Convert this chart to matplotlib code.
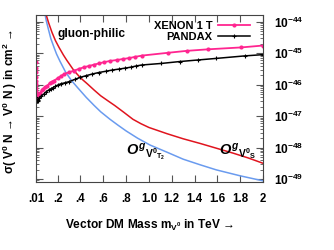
import numpy as np
import matplotlib; matplotlib.use("Agg")
import matplotlib.pyplot as plt
from matplotlib.ticker import LogLocator, NullFormatter

plt.rcParams['font.family'] = ['Liberation Sans', 'DejaVu Sans']
plt.rcParams['font.weight'] = 'bold'
plt.rcParams['mathtext.fontset'] = 'custom'
plt.rcParams['mathtext.rm'] = 'Liberation Sans:bold'
plt.rcParams['mathtext.it'] = 'Liberation Sans:italic:bold'
plt.rcParams['mathtext.bf'] = 'Liberation Sans:bold'

# mass in TeV, cross sections as log10(cm^2)
xe_m = [0.010, 0.0102, 0.0105, 0.011, 0.0115, 0.012, 0.013, 0.014, 0.016, 0.018, 0.021, 0.025,
        0.03, 0.036, 0.045, 0.06, 0.075, 0.09, 0.109, 0.13, 0.15, 0.168, 0.2, 0.23, 0.255, 0.3,
        0.343, 0.39, 0.431, 0.475, 0.518, 0.56, 0.606, 0.66, 0.72, 0.77, 0.825, 0.88, 0.939,
        1.17, 1.33, 1.52, 1.81, 2.0]
xe_s = [-45.27, -45.45, -45.6, -45.75, -45.88, -45.98, -46.1, -46.2, -46.28, -46.33, -46.36, -46.37,
        -46.36, -46.33, -46.27, -46.18, -46.12, -46.07, -46.03, -45.95, -45.90, -45.87, -45.79, -45.72,
        -45.66, -45.60, -45.55, -45.49, -45.44, -45.40, -45.36, -45.32, -45.28, -45.24, -45.21, -45.18,
        -45.15, -45.11, -45.07, -44.98, -44.92, -44.87, -44.81, -44.75]

pd_m = [0.010, 0.012, 0.015, 0.018, 0.021, 0.025, 0.03, 0.04, 0.055, 0.08, 0.1, 0.12, 0.139, 0.16,
        0.18, 0.2, 0.227, 0.26, 0.3, 0.35, 0.4, 0.45, 0.5, 0.56, 0.621, 0.68, 0.738, 0.79, 0.84,
        0.89, 0.937, 1.11, 1.27, 1.43, 1.59, 1.84, 2.0]
pd_s = [-46.38, -46.45, -46.5, -46.53, -46.53, -46.52, -46.48, -46.42, -46.36, -46.29, -46.22, -46.17,
        -46.13, -46.09, -46.05, -46.01, -45.97, -45.94, -45.90, -45.83, -45.76, -45.71, -45.66, -45.61,
        -45.57, -45.53, -45.50, -45.47, -45.44, -45.40, -45.37, -45.32, -45.26, -45.21, -45.16, -45.08,
        -45.04]

os_m = [0.095, 0.10, 0.12, 0.15, 0.18, 0.212, 0.25, 0.28, 0.343, 0.40, 0.46, 0.52, 0.577, 0.64,
        0.70, 0.781, 0.86, 0.93, 1.0, 1.08, 1.16, 1.3, 1.45, 1.6, 1.74, 1.87, 2.0]
os_s = [-43.6, -43.78, -44.02, -44.33, -44.59, -44.81, -45.05, -45.22, -45.55, -45.78, -45.97, -46.17,
        -46.35, -46.51, -46.66, -46.88, -47.10, -47.24, -47.36, -47.46, -47.56, -47.72, -47.87, -48.03,
        -48.18, -48.33, -48.50]

ot_m = [0.085, 0.089, 0.10, 0.12, 0.14, 0.168, 0.19, 0.22, 0.27, 0.32, 0.372, 0.45, 0.52, 0.577,
        0.659, 0.73, 0.8, 0.9, 1.01, 1.16, 1.3, 1.45, 1.59, 1.8, 2.0]
ot_s = [-43.6, -43.75, -43.96, -44.25, -44.53, -44.81, -45.02, -45.25, -45.60, -45.86, -46.08, -46.40,
        -46.66, -46.86, -47.10, -47.29, -47.47, -47.70, -47.92, -48.15, -48.37, -48.55, -48.71, -48.9,
        -49.06]

xticks = [0.01, 0.2, 0.4, 0.6, 0.8, 1.0, 1.2, 1.4, 1.6, 1.8, 2.0]
xlabels = [".01", ".2", ".4", ".6", ".8", "1.0", "1.2", "1.4", "1.6", "1.8", "2"]
ydec = [-49, -48, -47, -46, -45, -44]

fig = plt.figure(figsize=(3.34, 2.5), dpi=100)
ax = fig.add_axes([0.1078, 0.272, 0.6796, 0.668])
ax.set_yscale('log')

ax.plot(ot_m, 10.0**np.array(ot_s), color='#6a9bef', lw=1.1)
ax.plot(os_m, 10.0**np.array(os_s), color='#e0141e', lw=1.1)
ax.plot(xe_m, 10.0**np.array(xe_s), color='#ff2590', lw=1.3, marker='o', ms=3.0, mew=0,
        label='XENON 1 T')
ax.plot(pd_m, 10.0**np.array(pd_s), color='black', lw=1.1, marker='+', ms=3.5, mew=0.8,
        label='PANDAX')

ax.set_xlim(0.01, 2.0)
ax.set_ylim(8e-50, 1.67e-44)
ax.set_xticks(xticks)
ax.set_xticklabels(xlabels, fontsize=8.3, fontweight='bold')
ax.set_yticks([10.0**d for d in ydec])
ax.set_yticklabels([r'$10^{%d}$' % d for d in ydec], fontsize=8.6)
ax.yaxis.set_minor_locator(LogLocator(base=10, subs=np.arange(2, 10), numticks=20))
ax.yaxis.set_minor_formatter(NullFormatter())
ax.tick_params(axis='both', which='both', direction='in', color='#555555',
               top=True, bottom=True, left=True, right=True,
               labelleft=False, labelright=True)
ax.tick_params(axis='x', which='major', length=5, pad=8)
ax.tick_params(axis='y', which='major', length=5, pad=8)
ax.tick_params(axis='y', which='minor', length=2.5)
for s in ax.spines.values():
    s.set_color('#444444'); s.set_linewidth(0.8)

ax.text(0.094, 0.868, 'gluon-philic', transform=ax.transAxes, fontsize=8.6,
        fontweight='bold', va='baseline')
ax.text(0.80, 10.0**-48.24, r'$O^{g}{}_{\mathrm{V}^{0}{}_{\mathrm{T}_{2}}}$', fontsize=10.5,
        va='baseline')
ax.text(1.615, 10.0**-48.24, r'$O^{g}{}_{\mathrm{V}^{0}{}_{\mathrm{S}}}$', fontsize=10.5,
        va='baseline')

ax.legend(loc='upper right', bbox_to_anchor=(0.943, 0.965), frameon=False, markerfirst=False,
          fontsize=8, handlelength=2.9, handletextpad=0.5, labelspacing=0.12,
          borderpad=0, borderaxespad=0, numpoints=1)

ax.set_xlabel(r'Vector DM Mass m$_{\mathrm{V}^{0}}$ in TeV →', fontsize=8.6,
              fontweight='bold', labelpad=9)
fig.text(0.03, 0.595, r'σ( V$^{0}$ N → V$^{0}$ N ) in cm$^{2}$ →', rotation=90,
         fontsize=8.6, fontweight='bold', ha='center', va='center')

fig.savefig('out.png', dpi=100)
